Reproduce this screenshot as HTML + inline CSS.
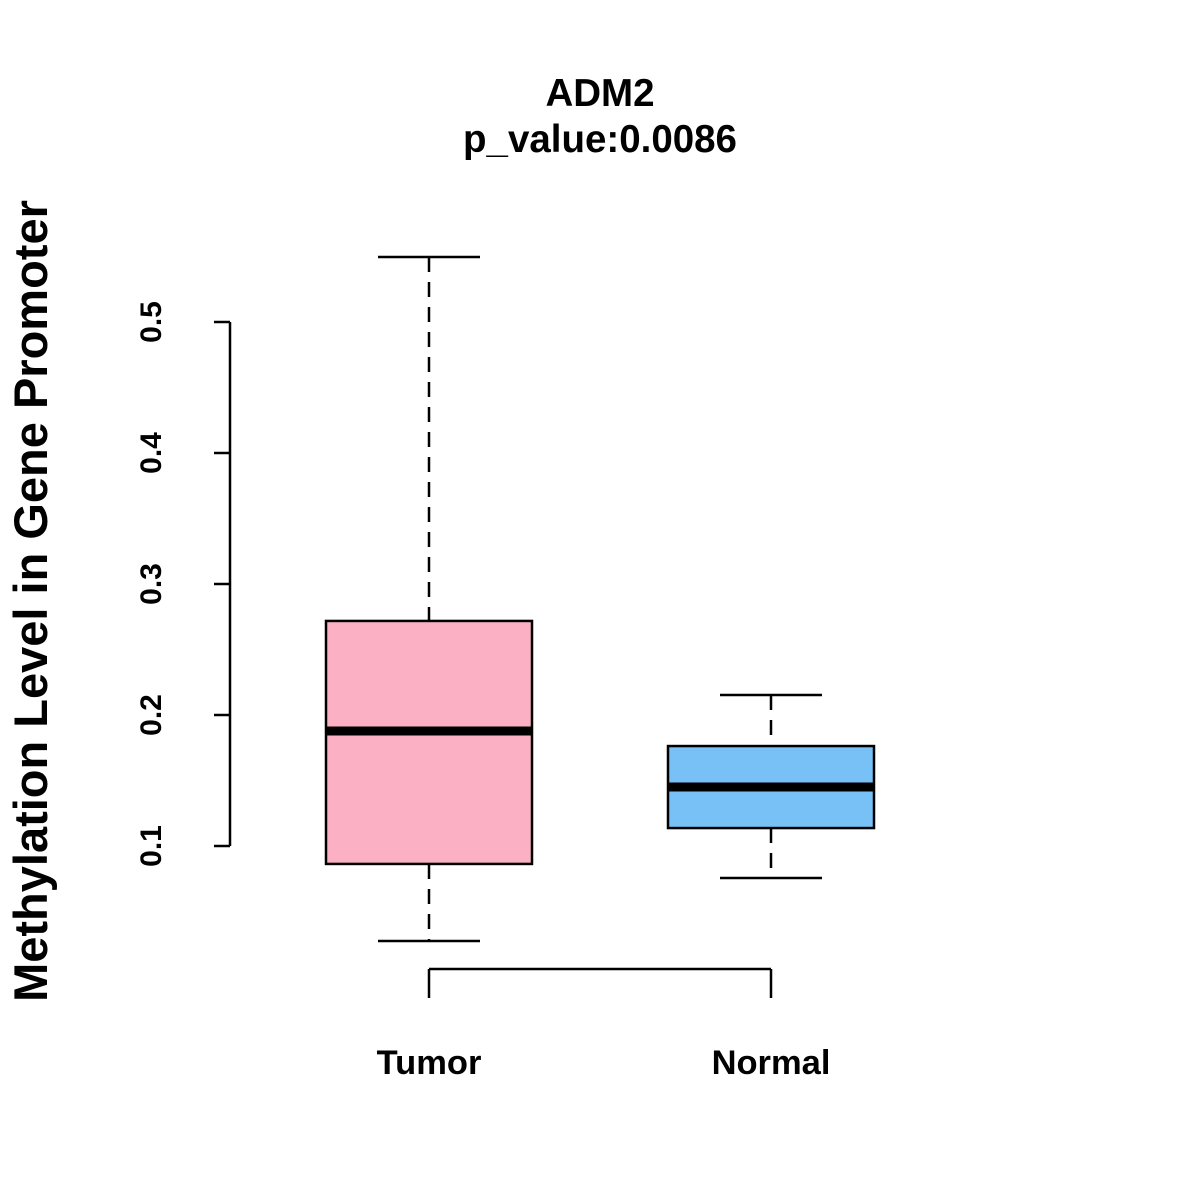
<!DOCTYPE html>
<html><head><meta charset="utf-8"><style>body{margin:0;background:#fff}svg{display:block}text{font-family:"Liberation Sans",Arial,sans-serif;font-weight:bold;fill:#000}</style></head>
<body>
<svg id="chart" width="1200" height="1200" viewBox="0 0 1200 1200" xmlns="http://www.w3.org/2000/svg">
<text x="600" y="106" font-size="38.5" text-anchor="middle">ADM2</text>
<text x="600" y="152" font-size="38.5" text-anchor="middle">p_value:0.0086</text>
<text transform="translate(47,601) rotate(-90)" font-size="47" text-anchor="middle">Methylation Level in Gene Promoter</text>
<g id="marks"></g>
</svg>
<script>
const categories = ["Tumor", "Normal"];
const mins = [0.0275, 0.0756];
const q1s = [0.0863, 0.1137];
const medians = [0.1878, 0.145];
const q3s = [0.2718, 0.1763];
const maxs = [0.5496, 0.2153];
const colors = ["#FBB1C3", "#77C1F7"];
const yTicks = [0.1, 0.2, 0.3, 0.4, 0.5];

const NS = "http://www.w3.org/2000/svg";
const g = document.getElementById("marks");
function y(v){ return 846 - (v - 0.1) * 1310; }
function x(i){ return 429 + i * 342; }
function el(tag, attrs){ const e = document.createElementNS(NS, tag); for (const k in attrs) e.setAttribute(k, attrs[k]); g.appendChild(e); return e; }

let a = el("line", {x1:230, x2:230, y1:y(yTicks[0]), y2:y(yTicks[yTicks.length-1]), stroke:"#000", "stroke-width":2.5});


yTicks.forEach(t => {
  const tk = el("line", {x1:214, x2:230, y1:y(t), y2:y(t), stroke:"#000", "stroke-width":2.5});
  
  
  const tx = el("text", {transform:`translate(161,${y(t)}) rotate(-90)`, "font-size":30, "text-anchor":"middle"});
  tx.textContent = t.toFixed(1);
  
  
});
let xa = el("line", {x1:x(0), x2:x(categories.length-1), y1:969, y2:969, stroke:"#000", "stroke-width":2.5});


categories.forEach((c, i) => {
  const tk = el("line", {x1:x(i), x2:x(i), y1:969, y2:998, stroke:"#000", "stroke-width":2.5});
  
  
  const tx = el("text", {x:x(i), y:1074, "font-size":34.5, "text-anchor":"middle"});
  tx.textContent = c;
  
  

  const cx = x(i), hw = 103, cw = 51;
  const w1 = el("line", {x1:cx, x2:cx, y1:y(maxs[i]), y2:y(q3s[i]), stroke:"#000", "stroke-width":2.5, "stroke-dasharray":"15,10"});
  
  
  const w2 = el("line", {x1:cx, x2:cx, y1:y(q1s[i]), y2:y(mins[i]), stroke:"#000", "stroke-width":2.5, "stroke-dasharray":"15,10"});
  
  
  const c1 = el("line", {x1:cx-cw, x2:cx+cw, y1:y(maxs[i]), y2:y(maxs[i]), stroke:"#000", "stroke-width":2.5});
  
  
  const c2 = el("line", {x1:cx-cw, x2:cx+cw, y1:y(mins[i]), y2:y(mins[i]), stroke:"#000", "stroke-width":2.5});
  
  
  const b = el("rect", {x:cx-hw, y:y(q3s[i]), width:2*hw, height:y(q1s[i])-y(q3s[i]), fill:colors[i], stroke:"#000", "stroke-width":2.5});
  
  
  const m = el("line", {x1:cx-hw, x2:cx+hw, y1:y(medians[i]), y2:y(medians[i]), stroke:"#000", "stroke-width":9});
  
  
});
</script>
</body></html>
